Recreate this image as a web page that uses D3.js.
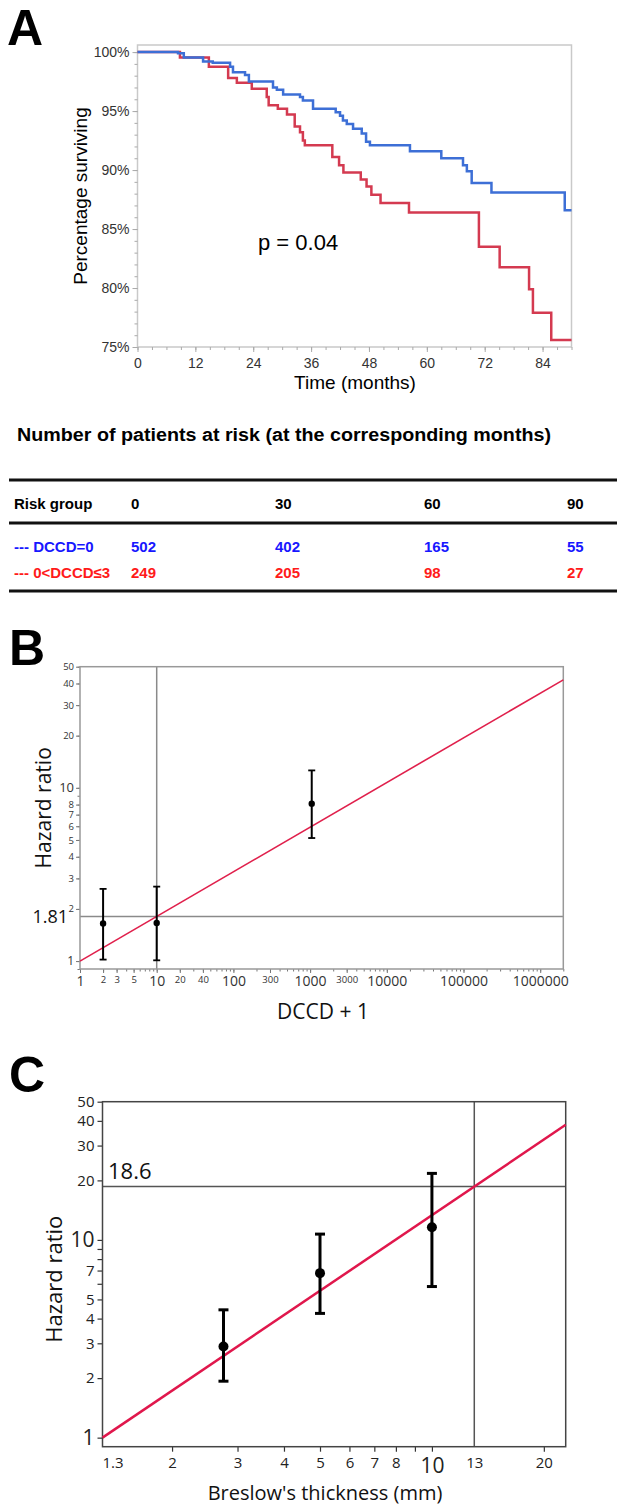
<!DOCTYPE html>
<html>
<head>
<meta charset="utf-8">
<script src="https://cdn.jsdelivr.net/npm/d3@7"></script>
<style>
  body { margin: 0; background: #fff; }
  svg { display: block; }
</style>
</head>
<body>
<svg id="fig" width="617" height="1507"></svg>
<script>
// ---------- data : panel A (Kaplan-Meier) ----------
const dccd0Months = [0, 8.4, 9.6, 13.6, 15.6, 19.2, 19.8, 22.3, 23.1, 28.1, 28.9, 30.2, 33.7, 34.3, 36.4,
  41.1, 42.0, 42.6, 43.4, 44.7, 46.5, 47.4, 48.2, 56.5, 63.0, 67.5, 68.3, 69.3, 73.4, 88.6, 90];
const dccd0Surv = [100, 99.9, 99.55, 99.2, 99.1, 98.75, 98.3, 98.05, 97.5, 97.0, 96.8, 96.4, 96.2, 95.9, 95.2,
  94.9, 94.6, 94.2, 93.9, 93.5, 93.1, 92.4, 92.1, 91.6, 91.0, 90.4, 89.9, 88.9, 88.1, 86.6, 86.6];
const dccd13Months = [0, 8.8, 14.8, 18.8, 20.6, 23.7, 26.8, 27.2, 29.1, 31.0, 32.6, 33.7, 34.3, 34.7,
  40.4, 41.8, 42.7, 46.3, 47.5, 48.5, 50.4, 56.3, 70.8, 75.1, 81.2, 82.0, 85.8, 90];
const dccd13Surv = [100, 99.55, 98.75, 97.8, 97.4, 96.9, 96.2, 95.5, 95.2, 94.7, 93.7, 93.2, 92.5, 92.1,
  91.1, 90.4, 89.8, 89.2, 88.6, 87.9, 87.2, 86.4, 83.5, 81.75, 79.9, 77.9, 75.6, 75.6];
const monthTicks = [0, 12, 24, 36, 48, 60, 72, 84];
const survTicks = [75, 80, 85, 90, 95, 100];

// ---------- data : risk table ----------
const riskMonths = ['0', '30', '60', '90'];
const riskGroups = ['--- DCCD=0', '--- 0<DCCD\u22643'];
const riskDccd0 = [502, 402, 165, 55];
const riskDccd13 = [249, 205, 98, 27];

// ---------- data : panel B ----------
const bDccd = [2, 10, 1050];
const bHr = [1.65, 1.66, 8.1];
const bLow = [1.02, 1.01, 5.13];
const bHigh = [2.61, 2.69, 12.6];
const bFitX = [1, 2000000];
const bFitY = [1, 42];
const bRefX = 10, bRefY = 1.81;
const bBigXLabels = [1, 10, 100, 1000, 10000, 100000, 1000000];
const bSmallXLabels = [2, 3, 5, 20, 40, 300, 3000];
const bYLabels = [1, 2, 3, 4, 5, 6, 7, 8, 10, 20, 30, 40, 50];

// ---------- data : panel C ----------
const cBreslow = [2.75, 5.0, 10.0];
const cHr = [2.89, 6.79, 11.6];
const cLow = [1.93, 4.25, 5.81];
const cHigh = [4.43, 10.7, 21.7];
const cFitX = [1.3, 22.9];
const cFitY = [1, 38.2];
const cRefX = 13, cRefY = 18.6;
const cXLabels = [1.3, 2, 3, 4, 5, 6, 7, 8, 10, 13, 20];
const cXTicks = [2, 3, 4, 5, 6, 7, 8, 9, 10, 20];
const cYLabels = [1, 2, 3, 4, 5, 7, 10, 20, 30, 40, 50];
const cYTicks = [1, 2, 3, 4, 5, 6, 7, 8, 9, 10, 20, 30, 40, 50];
const cBigLabels = [1, 10];

const FONT_A = '"Liberation Sans", Arial, sans-serif';
const FONT_BC = '"Open Sans", "Noto Sans", sans-serif';

const svg = d3.select('#fig');

function panelLetter(txt, x, y) {
  svg.append('text')
    .attr('x', x).attr('y', y)
    .style('font-family', FONT_A)
    .style('font-weight', 'bold')
    .style('font-size', '50px')
    .text(txt);
}

// ================= Panel A =================
const xA = d3.scaleLinear().domain([0, 90]).range([137.5, 571.5]);
const yA = d3.scaleLinear().domain([75, 100.6]).range([347, 45]);

panelLetter('A', 7, 45);

const gA = svg.append('g');

gA.append('rect')
  .attr('x', xA(0)).attr('y', yA(100.6))
  .attr('width', xA(90) - xA(0)).attr('height', yA(75) - yA(100.6))
  .attr('fill', 'none').attr('stroke', '#c9c9c9').attr('stroke-width', 1.5);

function styleAxisA(ax) {
  ax.select('.domain').remove();
  ax.selectAll('line').attr('stroke', '#aaa');
  ax.selectAll('text').attr('fill', '#333').style('font-family', FONT_A).style('font-size', '14px');
}

gA.append('g').attr('transform', `translate(${xA(0)},0)`)
  .call(d3.axisLeft(yA).tickValues(d3.range(75, 101)).tickSize(3).tickFormat(''))
  .call(styleAxisA);
gA.append('g').attr('transform', `translate(${xA(0)},0)`)
  .call(d3.axisLeft(yA).tickValues(survTicks).tickSize(5).tickPadding(3).tickFormat((d) => d + '%'))
  .call(styleAxisA);
gA.append('g').attr('transform', `translate(0,${yA(75)})`)
  .call(d3.axisBottom(xA).tickValues(d3.range(0, 91, 3)).tickSize(3).tickFormat(''))
  .call(styleAxisA);
gA.append('g').attr('transform', `translate(0,${yA(75)})`)
  .call(d3.axisBottom(xA).tickValues(monthTicks).tickSize(5).tickPadding(6))
  .call(styleAxisA);

const kmLine = d3.line()
  .x((d) => xA(d[0]))
  .y((d) => yA(d[1]))
  .curve(d3.curveStepAfter);

gA.append('path')
  .datum(d3.zip(dccd13Months, dccd13Surv))
  .attr('d', kmLine)
  .attr('fill', 'none').attr('stroke', '#d43a50').attr('stroke-width', 2.5);
gA.append('path')
  .datum(d3.zip(dccd0Months, dccd0Surv))
  .attr('d', kmLine)
  .attr('fill', 'none').attr('stroke', '#3d6fd6').attr('stroke-width', 2.5);

gA.append('text')
  .attr('transform', `translate(87,${(yA(75) + yA(100.6)) / 2}) rotate(-90)`)
  .attr('text-anchor', 'middle')
  .style('font-family', FONT_A).style('font-size', '19px')
  .text('Percentage surviving');

gA.append('text')
  .attr('x', 355).attr('y', 389)
  .attr('text-anchor', 'middle')
  .style('font-family', FONT_A).style('font-size', '19px')
  .text('Time (months)');

gA.append('text')
  .attr('x', 258).attr('y', 250)
  .style('font-family', FONT_A).style('font-size', '22px')
  .text('p = 0.04');

// ================= Risk table =================
const gT = svg.append('g').style('font-family', FONT_A).style('font-weight', 'bold');

gT.append('text')
  .attr('x', 17).attr('y', 441)
  .attr('textLength', 534).attr('lengthAdjust', 'spacingAndGlyphs')
  .style('font-size', '17.5px')
  .text('Number of patients at risk (at the corresponding months)');

[480, 523, 591].forEach((y) => {
  gT.append('line')
    .attr('x1', 9).attr('x2', 617).attr('y1', y).attr('y2', y)
    .attr('stroke', '#111').attr('stroke-width', 3);
});

const colXs = { '0': 131, '30': 275, '60': 424, '90': 567 };

gT.append('text').attr('x', 14).attr('y', 509).style('font-size', '15px').text('Risk group');
gT.selectAll('.hdr').data(riskMonths).enter().append('text')
  .attr('class', 'hdr')
  .attr('x', (d) => colXs[d]).attr('y', 509)
  .style('font-size', '15px').text((d) => d);

const rows = [
  { label: riskGroups[0], vals: riskDccd0, color: '#1717ff', y: 552 },
  { label: riskGroups[1], vals: riskDccd13, color: '#ff1a1a', y: 578 }
];
for (const r of rows) {
  gT.append('text').attr('x', 14).attr('y', r.y).attr('fill', r.color)
    .style('font-size', '15px').text(r.label);
  gT.selectAll(null).data(r.vals).enter().append('text')
    .attr('x', (d, i) => colXs[riskMonths[i]])
    .attr('y', r.y).attr('fill', r.color)
    .style('font-size', '15px').text((d) => d);
}

// ================= Panel B =================
const xB = d3.scaleLog().domain([1, 2000000]).range([80, 563.3]);
const yB = d3.scaleLog().domain([0.9, 50]).range([969, 666.7]);

panelLetter('B', 9, 665);

const gB = svg.append('g').style('font-family', FONT_BC);

function styleAxisB(ax) {
  ax.select('.domain').remove();
  ax.selectAll('line').attr('stroke', '#777');
  ax.selectAll('text').attr('fill', '#333').style('font-family', FONT_BC);
}

// minor ticks
gB.append('g').attr('transform', `translate(0,969)`)
  .call(d3.axisBottom(xB).tickValues(xB.ticks()).tickSize(2.5).tickFormat(''))
  .call(styleAxisB);
gB.append('g').attr('transform', `translate(0,969)`)
  .call(d3.axisBottom(xB).tickValues(bBigXLabels.concat(bSmallXLabels)).tickSize(4).tickPadding(3)
    .tickFormat((d) => String(d)))
  .call(styleAxisB)
  .call((ax) => ax.selectAll('text')
    .style('font-size', (d) => (bBigXLabels.includes(d) ? '14px' : '9.5px')));

gB.append('g').attr('transform', `translate(80,0)`)
  .call(d3.axisLeft(yB).tickValues(yB.ticks().filter((d) => d <= 50)).tickSize(2.5).tickFormat(''))
  .call(styleAxisB);
gB.append('g').attr('transform', `translate(80,0)`)
  .call(d3.axisLeft(yB).tickValues(bYLabels).tickSize(4).tickPadding(2).tickFormat((d) => String(d)))
  .call(styleAxisB)
  .call((ax) => ax.selectAll('text')
    .style('font-size', (d) => (d === 10 ? '13px' : d === 1 ? '12px' : '9.5px')));

// reference lines
gB.append('line')
  .attr('x1', xB(1)).attr('x2', xB(2000000)).attr('y1', yB(bRefY)).attr('y2', yB(bRefY))
  .attr('stroke', '#8a8a8a').attr('stroke-width', 1.5);
gB.append('line')
  .attr('x1', xB(bRefX)).attr('x2', xB(bRefX)).attr('y1', yB(0.9)).attr('y2', yB(50))
  .attr('stroke', '#8a8a8a').attr('stroke-width', 1.5);

gB.append('rect')
  .attr('x', xB(1)).attr('y', yB(50))
  .attr('width', xB(2000000) - xB(1)).attr('height', yB(0.9) - yB(50))
  .attr('fill', 'none').attr('stroke', '#999').attr('stroke-width', 1.5);

gB.append('path')
  .datum(d3.zip(bFitX, bFitY))
  .attr('d', d3.line().x((d) => xB(d[0])).y((d) => yB(d[1])))
  .attr('stroke', '#e0204c').attr('stroke-width', 1.6).attr('fill', 'none');

const bPts = d3.zip(bDccd, bHr, bLow, bHigh);
const bBars = gB.selectAll('.bbar').data(bPts).enter().append('g').attr('class', 'bbar');
bBars.append('line')
  .attr('x1', (d) => xB(d[0])).attr('x2', (d) => xB(d[0]))
  .attr('y1', (d) => yB(d[2])).attr('y2', (d) => yB(d[3]))
  .attr('stroke', '#000').attr('stroke-width', 2);
bBars.selectAll('.cap').data((d) => [[d[0], d[2]], [d[0], d[3]]]).enter().append('line')
  .attr('x1', (d) => xB(d[0]) - 3.5).attr('x2', (d) => xB(d[0]) + 3.5)
  .attr('y1', (d) => yB(d[1])).attr('y2', (d) => yB(d[1]))
  .attr('stroke', '#000').attr('stroke-width', 1.8);
bBars.append('circle')
  .attr('cx', (d) => xB(d[0])).attr('cy', (d) => yB(d[1]))
  .attr('r', 3.2).attr('fill', '#000');

gB.append('text')
  .attr('x', 68).attr('y', yB(bRefY) + 6.5)
  .attr('text-anchor', 'end')
  .style('font-size', '18px').attr('fill', '#111')
  .text(String(bRefY));

gB.append('text')
  .attr('transform', `translate(51,${(yB(0.9) + yB(50)) / 2 - 10}) rotate(-90)`)
  .attr('text-anchor', 'middle')
  .style('font-size', '21px').attr('fill', '#111')
  .text('Hazard ratio');

gB.append('text')
  .attr('x', 323).attr('y', 1019)
  .attr('text-anchor', 'middle')
  .style('font-size', '21px').attr('fill', '#111')
  .text('DCCD + 1');

// ================= Panel C =================
const xC = d3.scaleLog().domain([1.3, 22.9]).range([102.5, 565.7]);
const yC = d3.scaleLog().domain([0.9, 50]).range([1446.7, 1101.7]);

panelLetter('C', 9, 1092);

const gC = svg.append('g').style('font-family', FONT_BC);

function styleAxisC(ax) {
  ax.select('.domain').remove();
  ax.selectAll('line').attr('stroke', '#333').attr('stroke-width', 1.2);
  ax.selectAll('text').attr('fill', '#222').style('font-family', FONT_BC);
}

gC.append('g').attr('transform', `translate(0,${yC(0.9)})`)
  .call(d3.axisBottom(xC).tickValues(cXTicks).tickSize(5).tickFormat(''))
  .call(styleAxisC);
gC.append('g').attr('transform', `translate(0,${yC(0.9)})`)
  .call(d3.axisBottom(xC).tickValues(cXLabels).tickSize(0).tickPadding(11).tickFormat((d) => String(d)))
  .call(styleAxisC)
  .call((ax) => ax.selectAll('text')
    .style('font-size', (d) => (d === 10 ? '21px' : '15px'))
    .attr('dx', (d) => (d === 1.3 ? '10' : '0')));

gC.append('g').attr('transform', `translate(${xC(1.3)},0)`)
  .call(d3.axisLeft(yC).tickValues(cYTicks).tickSize(5).tickFormat(''))
  .call(styleAxisC);
gC.append('g').attr('transform', `translate(${xC(1.3)},0)`)
  .call(d3.axisLeft(yC).tickValues(cYLabels).tickSize(0).tickPadding(8).tickFormat((d) => String(d)))
  .call(styleAxisC)
  .call((ax) => ax.selectAll('text')
    .style('font-size', (d) => (cBigLabels.includes(d) ? '21px' : '15px')));

gC.append('line')
  .attr('x1', xC(1.3)).attr('x2', xC(22.9)).attr('y1', yC(cRefY)).attr('y2', yC(cRefY))
  .attr('stroke', '#555').attr('stroke-width', 1.5);
gC.append('line')
  .attr('x1', xC(cRefX)).attr('x2', xC(cRefX)).attr('y1', yC(0.9)).attr('y2', yC(50))
  .attr('stroke', '#555').attr('stroke-width', 1.5);

gC.append('rect')
  .attr('x', xC(1.3)).attr('y', yC(50))
  .attr('width', xC(22.9) - xC(1.3)).attr('height', yC(0.9) - yC(50))
  .attr('fill', 'none').attr('stroke', '#444').attr('stroke-width', 1.5);

gC.append('path')
  .datum(d3.zip(cFitX, cFitY))
  .attr('d', d3.line().x((d) => xC(d[0])).y((d) => yC(d[1])))
  .attr('stroke', '#e0174c').attr('stroke-width', 2.5).attr('fill', 'none');

const cPts = d3.zip(cBreslow, cHr, cLow, cHigh);
const cBars = gC.selectAll('.cbar').data(cPts).enter().append('g').attr('class', 'cbar');
cBars.append('line')
  .attr('x1', (d) => xC(d[0])).attr('x2', (d) => xC(d[0]))
  .attr('y1', (d) => yC(d[2])).attr('y2', (d) => yC(d[3]))
  .attr('stroke', '#000').attr('stroke-width', 3);
cBars.selectAll('.cap').data((d) => [[d[0], d[2]], [d[0], d[3]]]).enter().append('line')
  .attr('x1', (d) => xC(d[0]) - 5).attr('x2', (d) => xC(d[0]) + 5)
  .attr('y1', (d) => yC(d[1])).attr('y2', (d) => yC(d[1]))
  .attr('stroke', '#000').attr('stroke-width', 3);
cBars.append('circle')
  .attr('cx', (d) => xC(d[0])).attr('cy', (d) => yC(d[1]))
  .attr('r', 5).attr('fill', '#000');

gC.append('text')
  .attr('x', 108).attr('y', yC(cRefY) - 8)
  .style('font-size', '22px').attr('fill', '#111')
  .text(String(cRefY));

gC.append('text')
  .attr('transform', `translate(62,${(yC(0.9) + yC(50)) / 2 + 5}) rotate(-90)`)
  .attr('text-anchor', 'middle')
  .style('font-size', '22px').attr('fill', '#111')
  .text('Hazard ratio');

gC.append('text')
  .attr('x', 325).attr('y', 1500)
  .attr('text-anchor', 'middle')
  .style('font-size', '20px').attr('fill', '#111')
  .text("Breslow's thickness (mm)");
</script>
</body>
</html>
